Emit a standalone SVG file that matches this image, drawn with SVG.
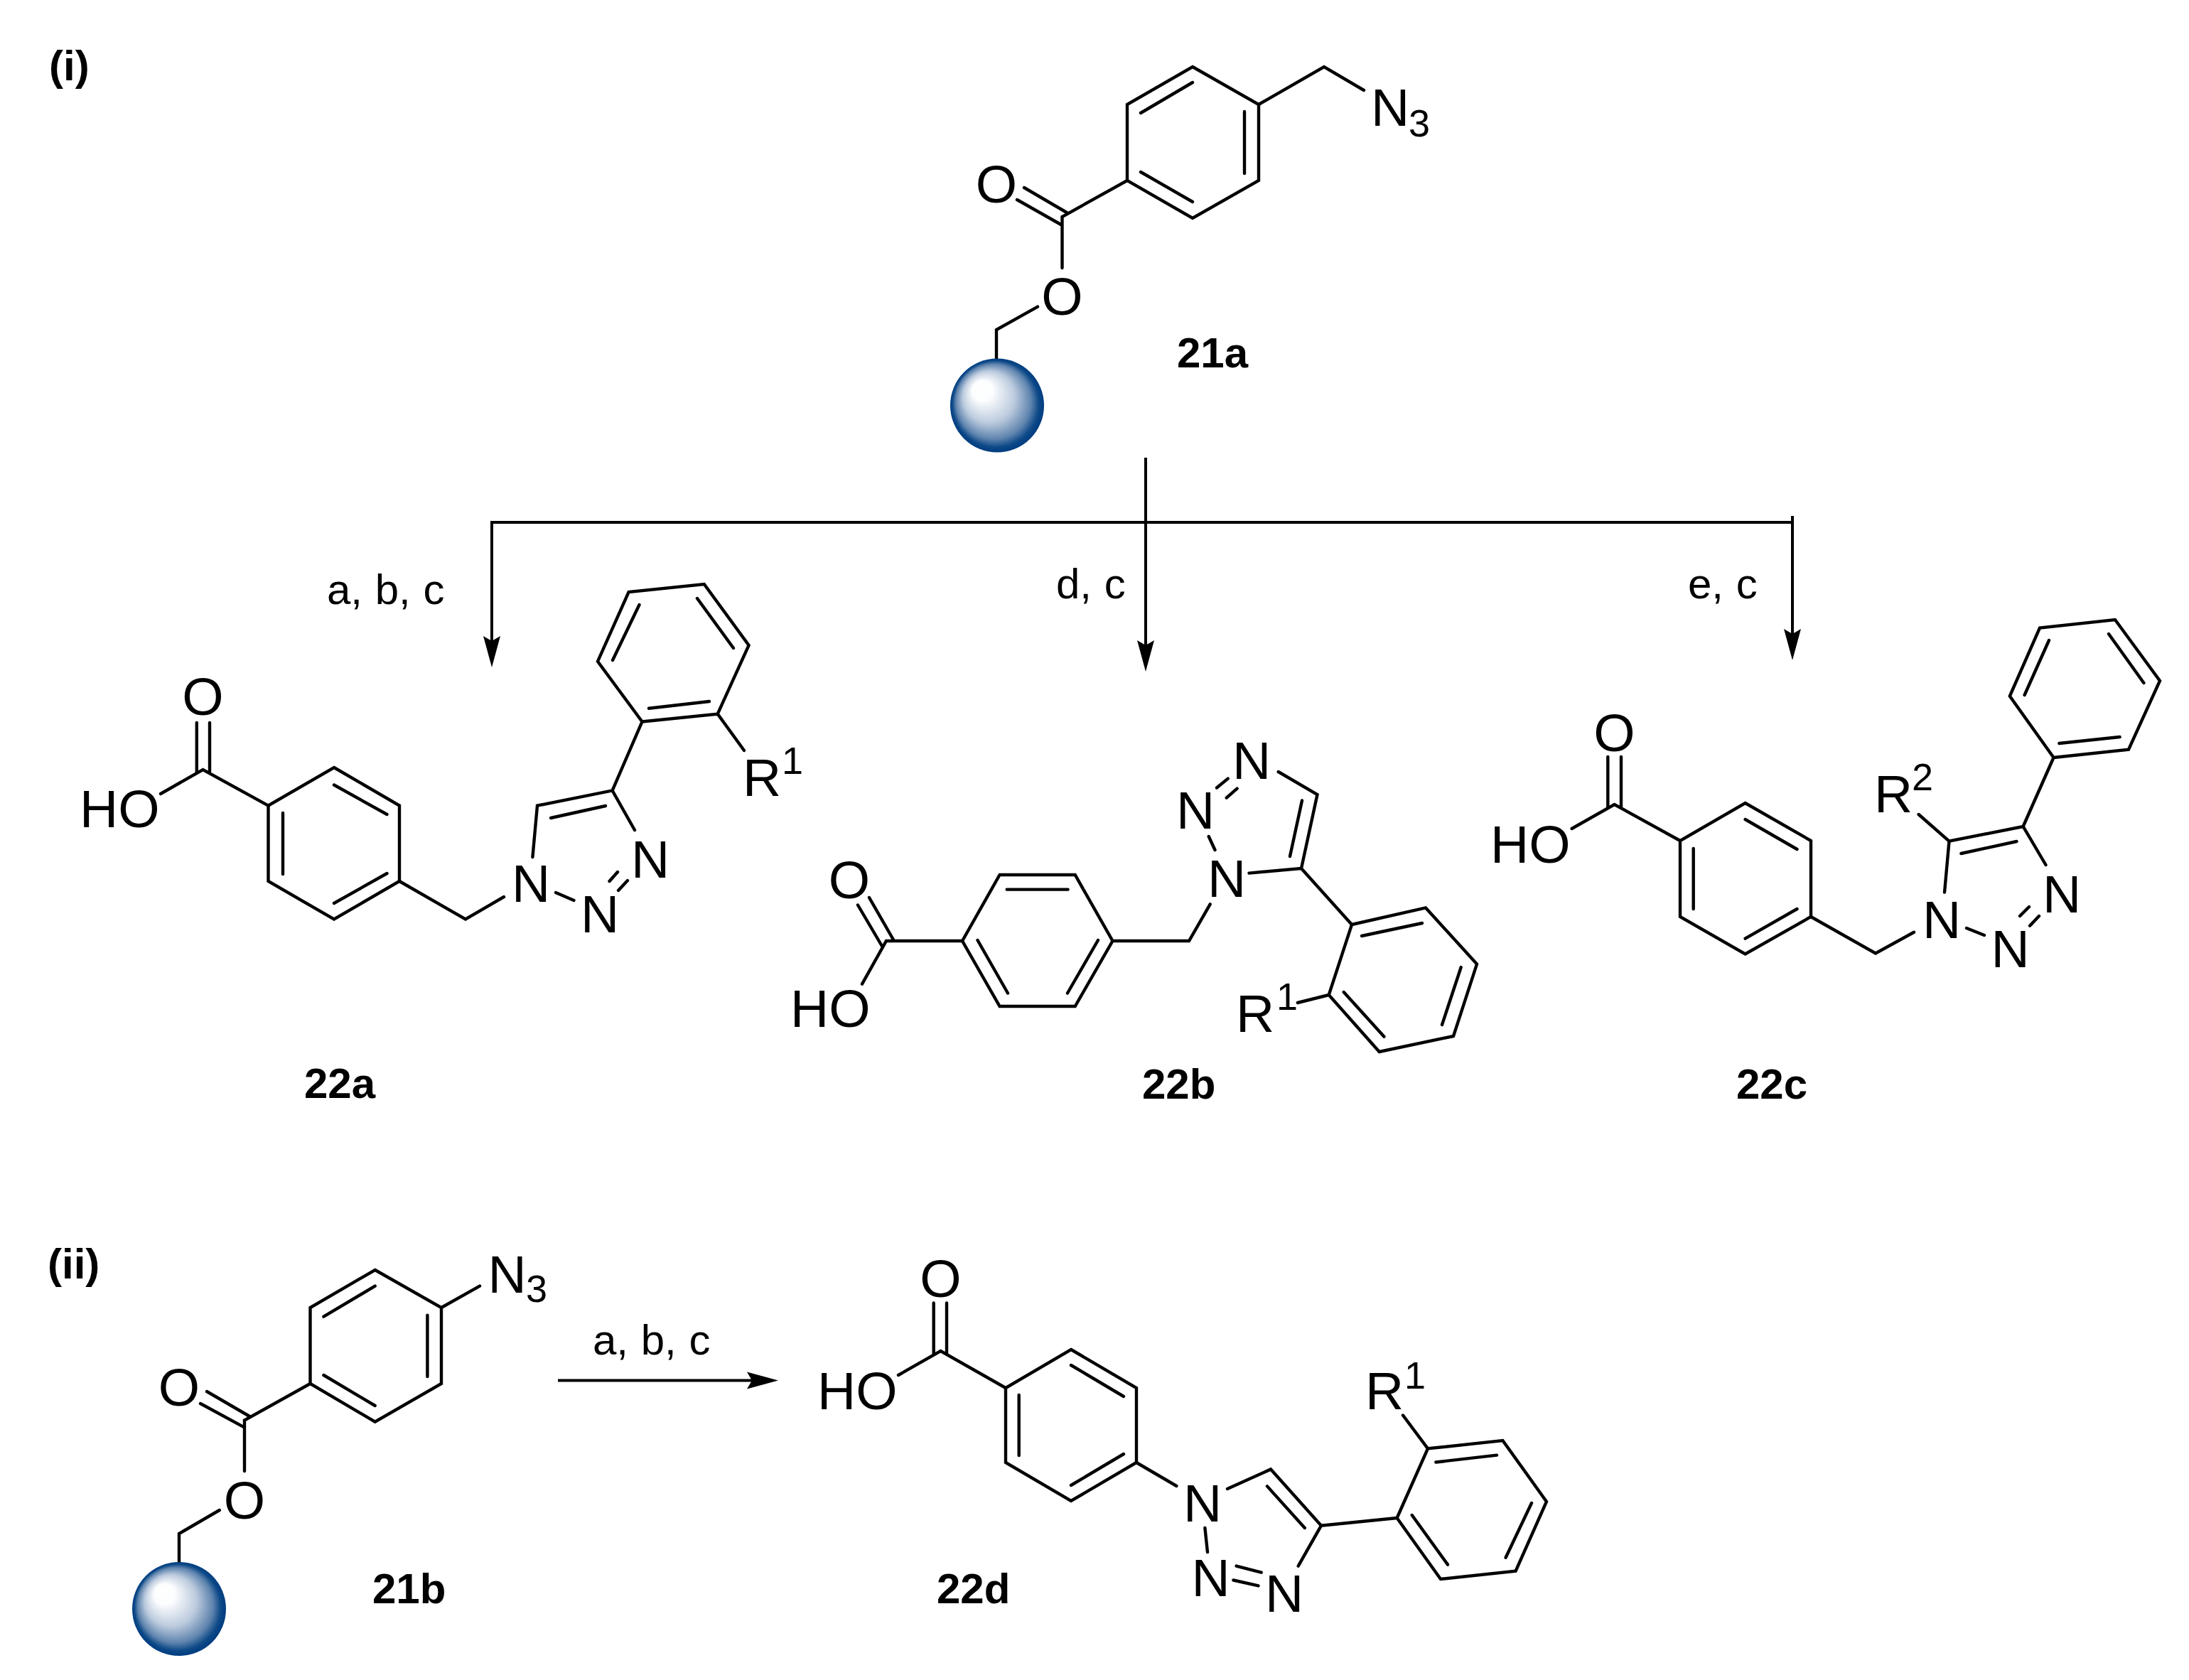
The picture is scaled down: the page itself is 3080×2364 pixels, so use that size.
<svg xmlns="http://www.w3.org/2000/svg" width="3080" height="2364" viewBox="0 0 3080 2364">
<style>
.b{fill:none;stroke:#000;stroke-width:4.400;stroke-linecap:round;stroke-linejoin:miter}
.c{fill:none;stroke:#000;stroke-width:4;stroke-linecap:butt;stroke-linejoin:miter}
text{font-family:"Liberation Sans",Arial,sans-serif;fill:#000}
.a{font-size:75px}
.m{font-size:75px;text-anchor:middle}
.s{font-size:54px}
.r{font-size:60px;word-spacing:1px}
.l{font-size:60px;font-weight:bold}
.bead{fill:url(#beadGrad)}
</style>
<defs>
<radialGradient id="beadGrad" cx="0.5" cy="0.5" r="0.5" fx="0.3" fy="0.3">
<stop offset="0" stop-color="#ffffff"/>
<stop offset="0.22" stop-color="#fcfdfe"/>
<stop offset="0.55" stop-color="#bccbde"/>
<stop offset="0.8" stop-color="#5f84ae"/>
<stop offset="0.92" stop-color="#0e4a88"/>
<stop offset="1" stop-color="#003c80"/>
</radialGradient>
<marker id="arrow" markerUnits="userSpaceOnUse" markerWidth="46" markerHeight="26" refX="14" refY="12" orient="auto" viewBox="0 0 46 24">
<path d="M44,12 L0,0 L7,12 L0,24 Z" fill="#000"/>
</marker>
</defs>
<rect width="3080" height="2364" fill="#ffffff"/>

<g id="connectors">
<path class="c" d="M692,735 H2522"/>
<path class="c" d="M692,733 V909" marker-end="url(#arrow)"/>
<path class="c" d="M1612,644 V915" marker-end="url(#arrow)"/>
<path class="c" d="M2522,726 V899" marker-end="url(#arrow)"/>
<path class="c" d="M785,1942.5 H1065" marker-end="url(#arrow)"/>
<text class="r" x="460" y="850">a, b, c</text>
<text class="r" x="1486" y="842">d, c</text>
<text class="r" x="2375" y="842">e, c</text>
<text class="r" x="834" y="1906">a, b, c</text>
</g>

<g id="label-i"><text class="l" x="69" y="113">(i)</text></g>
<g id="label-ii"><text class="l" x="67" y="1799">(ii)</text></g>

<g id="mol-21a">
<path class="b" d="M1678,94 L1771,147 V254 L1678,307 L1586,254 V147 Z M1605,159 L1678,116 M1751,157 V244 M1605,242 L1678,284"/>
<path class="b" d="M1771,147 L1863,94 L1919,127 M1586,254 L1494.500,305 V377 M1431,281 L1494.500,317 M1441,264 L1502.500,300 M1460,431.600 L1402,464 V505"/>
<text class="a" x="1929" y="177">N</text><text class="s" x="1982" y="191.500">3</text>
<text class="m" x="1402" y="285">O</text>
<text class="m" x="1494.500" y="443">O</text>
<circle class="bead" cx="1403" cy="570.500" r="66"/>
<text class="l" x="1656" y="516.500">21a</text>
</g>

<g id="mol-22a">
<path class="b" d="M470,1080 L562,1133.600 V1240 L470,1293.500 L377.500,1240 V1133.600 Z M470,1104.500 L544.500,1146 M398,1144 V1230 M470,1271 L544.500,1229"/>
<path class="b" d="M377.500,1133.600 L285.500,1083 L226,1117 M276.800,1087 V1017 M295,1086 V1017 M562,1240 L655,1293.500 L709,1262 M782,1256 L807.500,1267 M857.500,1240 L869,1227 M870,1253 L883,1239 M893,1168 L861.600,1112.400 L756,1133.600 L749.400,1206 M775,1151 L852,1134 M861.600,1112.400 L903.500,1015.500"/>
<path class="b" d="M903.500,1015.500 L1009.700,1004.600 L1053.600,908 L990.800,822 L884.600,833 L841,930.700 Z M913,996.700 L998,987 M1032,912 L981,842 M899.500,851 L862,929 M1009.700,1004.600 L1047,1056"/>
<text class="m" x="285.500" y="1006">O</text>
<text class="a" x="112" y="1164">HO</text>
<text class="m" x="747" y="1269">N</text>
<text class="m" x="844" y="1312">N</text>
<text class="m" x="915" y="1235">N</text>
<text class="a" x="1045" y="1120">R</text><text class="s" x="1100" y="1089">1</text>
<text class="l" x="428" y="1545">22a</text>
</g>

<g id="mol-22b">
<path class="b" d="M1354,1324 L1406.600,1231 H1512.700 L1565.500,1324 L1512.700,1416 H1406.600 Z M1416.700,1251.600 H1502.600 M1545,1323 L1502,1397.500 M1375.500,1323 L1418,1397.500"/>
<path class="b" d="M1354,1324 H1247 L1213,1384.600 M1223,1263 L1258,1324 M1207,1273.500 L1242,1333 M1565.500,1324 H1673 L1702.700,1272.400 M1709.500,1196 L1700.700,1177 M1712,1108.500 L1727.700,1095.600 M1725.700,1122.600 L1740.600,1109.600 M1798.700,1086 L1853.500,1118 L1831,1222 L1757.500,1228.600 M1832,1126.500 L1815,1205 M1831,1222 L1902,1301"/>
<path class="b" d="M1902,1301 L2006,1277.400 L2078,1356.600 L2045,1458 L1940.700,1480 L1869.700,1400 Z M1916,1317 L2001,1299 M2055.700,1361 L2029,1442 M1947.500,1458.700 L1890.700,1396 M1869.700,1400 L1825.800,1411"/>
<text class="m" x="1195" y="1264">O</text>
<text class="a" x="1112" y="1445">HO</text>
<text class="m" x="1726" y="1262">N</text>
<text class="m" x="1682" y="1166">N</text>
<text class="m" x="1761" y="1095.500">N</text>
<text class="a" x="1739" y="1452">R</text><text class="s" x="1796" y="1421">1</text>
<text class="l" x="1607" y="1545.500">22b</text>
</g>

<g id="mol-22c">
<path class="b" d="M2455.600,1130 L2548,1183 V1290 L2455.600,1342.500 L2364,1290 V1183 Z M2455.600,1153 L2528.500,1195 M2382.700,1194 V1279 M2455.600,1320.600 L2528.500,1279"/>
<path class="b" d="M2364,1183 L2271.500,1132 L2211.600,1166 M2262.300,1136 V1065 M2281,1135 V1065 M2548,1290 L2639,1341.400 L2693,1311.700 M2767,1306 L2792,1316 M2842,1289 L2855,1276 M2856,1302.700 L2869,1289 M2878.500,1217 L2846.600,1163 L2742.500,1183.700 L2736,1255.600 M2759.400,1201 L2837.500,1184 M2742.500,1183.700 L2699.600,1146 M2846.600,1163 L2889.500,1066"/>
<path class="b" d="M2889.500,1066 L2995,1054.600 L3039,958 L2976,872 L2870,883.500 L2827.800,979.500 Z M2897.400,1046 L2982.600,1037 M3016.400,961 L2967,892 M2883,901 L2848.600,978"/>
<text class="m" x="2271.500" y="1057">O</text>
<text class="a" x="2097" y="1213.500">HO</text>
<text class="m" x="2732" y="1319.500">N</text>
<text class="m" x="2828.500" y="1361">N</text>
<text class="m" x="2901" y="1283.500">N</text>
<text class="a" x="2637" y="1143">R</text><text class="s" x="2690" y="1112">2</text>
<text class="l" x="2443" y="1545.500">22c</text>
</g>

<g id="mol-21b">
<path class="b" d="M527.700,1787 L621,1840 V1947 L527.700,2000.600 L436.500,1947 V1840 Z M455.400,1852.600 L527.700,1809.600 M601.400,1850.600 V1937 M455.400,1935 L527.700,1978"/>
<path class="b" d="M621,1840 L675,1809.600 M436.500,1947 L344,1998.600 V2070 M282,1975 L344,2008.600 M291,1958 L352,1993.500 M308.800,2125 L252,2158 V2198"/>
<text class="a" x="686.500" y="1818.500">N</text><text class="s" x="740" y="1832">3</text>
<text class="m" x="252" y="1978">O</text>
<text class="m" x="344" y="2137">O</text>
<circle class="bead" cx="252" cy="2264" r="66"/>
<text class="l" x="524" y="2256">21b</text>
</g>

<g id="mol-22d">
<path class="b" d="M1507,1899 L1599,1953 V2058 L1507,2112 L1415,2058 V1953 Z M1507,1921 L1581,1965 M1433.700,1963 V2048 M1507,2090 L1581,2046"/>
<path class="b" d="M1415,1953 L1323.500,1901 L1264,1935 M1313.700,1905 V1833.500 M1332,1904 V1833.500 M1599,2058 L1655.400,2091 M1695.400,2150 L1699,2184 M1739.600,2203.600 L1774.700,2212.700 M1735.400,2223.500 L1770.500,2231.400 M1826.700,2203.600 L1859,2146.700 L1788,2067.500 L1727,2095 M1835.800,2150 L1783,2091.400 M1859,2146.700 L1965.600,2136"/>
<path class="b" d="M1965.600,2136 L2009,2038.400 L2114.400,2027 L2176,2113 L2132.600,2210.700 L2027,2222 Z M2020.400,2057.500 L2106,2047.600 M2155,2115 L2118.600,2191.700 M2037,2201.600 L1986.700,2132 M2009,2038.400 L1974,1991.500"/>
<text class="m" x="1323.500" y="1825">O</text>
<text class="a" x="1150" y="1982.500">HO</text>
<text class="m" x="1692" y="2141">N</text>
<text class="m" x="1703.500" y="2246">N</text>
<text class="m" x="1807" y="2268">N</text>
<text class="a" x="1921" y="1982.500">R</text><text class="s" x="1976" y="1954">1</text>
<text class="l" x="1318" y="2256">22d</text>
</g>
</svg>
